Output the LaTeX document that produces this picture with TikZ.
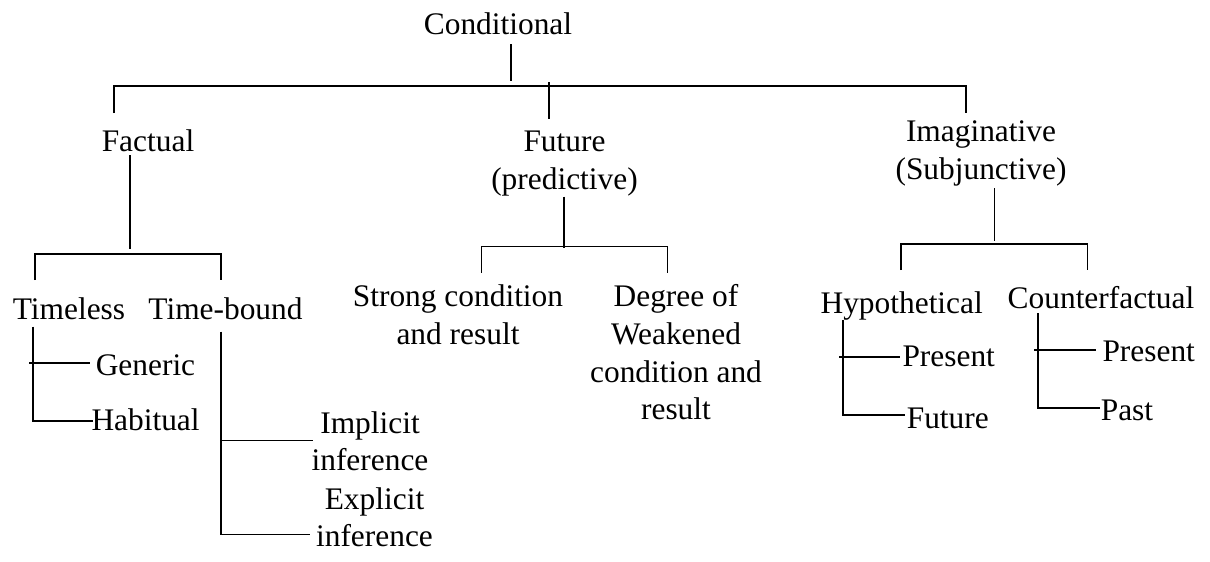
\documentclass[tikz,border=0pt]{standalone}
\usepackage{fontspec}
\setmainfont{Liberation Serif}
\begin{document}
\begin{tikzpicture}[x=1pt,y=-1pt,line width=1.6pt,
    lbl/.style={inner sep=0pt,anchor=base,align=center,font=\fontsize{31.4}{37.7}\selectfont},
    lft/.style={lbl,anchor=base west}]
    \useasboundingbox (0,0) rectangle (1210,562);
    % labels (multi-line ones sit on the baseline of their last line)
    \node[lbl] (cond) at (498,34) {Conditional};
    \node[lbl] (fact) at (148,151.7) {Factual};
    \node[lbl] (fut) at (564.5,189) {Future\\(predictive)};
    \node[lbl] (imag) at (981,179) {Imaginative\\(Subjunctive)};
    \node[lbl] (tless) at (69,319.3) {Timeless};
    \node[lbl] (tbound) at (225.5,319.3) {Time-bound};
    \node[lft] (gen) at (95,375.7) {Generic};
    \node[lft] (hab) at (90.7,430) {Habitual};
    \node[lbl] (impl) at (370,470.7) {Implicit\\inference};
    \node[lbl] (expl) at (374.5,546.7) {Explicit\\inference};
    \node[lbl] (strong) at (458,344.4) {Strong condition\\and result};
    \node[lbl] (weak) at (676,419.8) {Degree of\\Weakened\\condition and\\result};
    \node[lbl] (hyp) at (901.7,313) {Hypothetical};
    \node[lbl] (cfact) at (1101,308) {Counterfactual};
    \node[lft] (hpres) at (901.7,366.7) {Present};
    \node[lft] (hfut) at (906,428) {Future};
    \node[lft] (cpres) at (1101.7,361.7) {Present};
    \node[lft] (cpast) at (1100,420) {Past};
    % junctions
    \coordinate (c0) at (511,44);
    \coordinate (c1) at (511,81);
    \coordinate (b0l) at (114,85.7);
    \coordinate (b0r) at (966,85.7);
    \coordinate (fu0) at (549,82.3);
    \coordinate (fu1) at (549,119.3);
    \coordinate (f0) at (130,155);
    \coordinate (f1) at (130,249);
    \coordinate (b1l) at (34.7,253.7);
    \coordinate (b1r) at (221,253.7);
    \coordinate (p0) at (564,196.7);
    \coordinate (p1) at (564,248);
    \coordinate (b2l) at (481.5,246.5);
    \coordinate (b2r) at (667.5,246.5);
    \coordinate (s0) at (994.3,188);
    \coordinate (s1) at (994.3,241);
    \coordinate (b3l) at (900.7,244);
    \coordinate (b3r) at (1087.3,244);
    \coordinate (tl0) at (32.7,326.7);
    \coordinate (tl1) at (32.7,421);
    \coordinate (tb0) at (221,331.7);
    \coordinate (tb1) at (221,440.3);
    \coordinate (tb2) at (221,534.3);
    \coordinate (h0) at (842.7,320);
    \coordinate (h1) at (842.7,415);
    \coordinate (k0) at (1037.7,313);
    \coordinate (k1) at (1037.7,407.7);
    % top level
    \draw (c0) -- (c1);
    \draw (b0l) ++(0,27.3) -- (b0l) -- (b0r) -- ++(0,27.3);
    \draw (fu0) -- (fu1);
    % factual
    \draw (f0) -- (f1);
    \draw (b1l) ++(0,26.3) -- (b1l) -- (b1r) -- ++(0,26.3);
    \draw (tl0) -- (tl1) -- ++(60.3,0);
    \draw (29.3,362.7) -- ++(60.7,0);
    \draw (tb0) -- (tb2) -- ++(89,0);
    \draw (tb1) -- ++(92,0);
    % future
    \draw (p0) -- (p1);
    \draw (b2l) ++(0,26.2) -- (b2l) -- (b2r) -- ++(0,26.2);
    % imaginative
    \draw (s0) -- (s1);
    \draw (b3l) ++(0,26) -- (b3l) -- (b3r) -- ++(0,26);
    \draw (h0) -- (h1) -- ++(62.3,0);
    \draw (839,356.7) -- ++(61,0);
    \draw (k0) -- (k1) -- ++(62.3,0);
    \draw (1034,350) -- ++(62,0);
\end{tikzpicture}
\end{document}
